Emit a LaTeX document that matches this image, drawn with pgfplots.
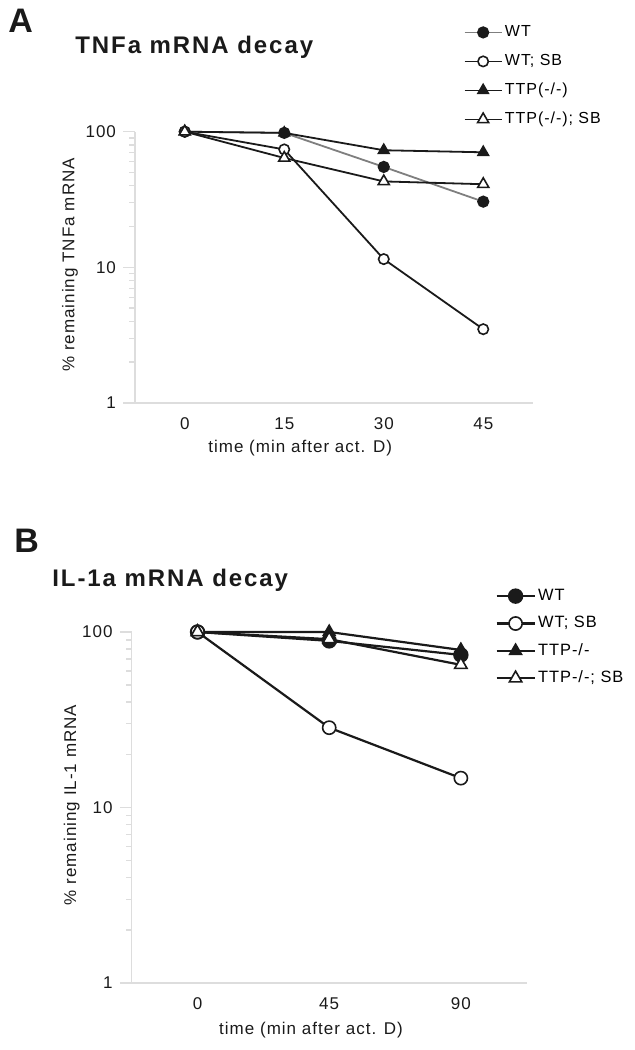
\documentclass[border=0pt]{standalone}
\usepackage{pgfplots}
\pgfplotsset{compat=1.18}
\usepackage{fontspec}
\setmainfont{Liberation Sans}
\newfontfamily\spaced[LetterSpace=6]{Liberation Sans}
\newfontfamily\spacedb[LetterSpace=8]{Liberation Sans}
\definecolor{ln}{HTML}{1A1A1A}
\definecolor{lg}{HTML}{7F7F7F}
\definecolor{ax}{HTML}{DDDDDD}
\begin{document}
\begin{tikzpicture}
\path[use as bounding box] (0,0) rectangle (317.5pt,525pt);
% ---------- Panel A ----------
\begin{axis}[
  scale only axis, ymode=log, ymin=1, ymax=100,
  axis x line=bottom, axis y line=left,
  axis line style={draw=ax, line width=0.7pt, -},
  ytick={1,10,100}, yticklabels={1,10,100},
  minor tick style={draw=none},
  ytick style={draw=ax, line width=0.7pt},
  xtick style={draw=none},
  major tick length=6pt, tick align=outside,
  ticklabel style={font=\spaced\fontsize{8.5}{10}\selectfont, text=ln},
  label style={font=\spaced\fontsize{8.5}{10}\selectfont, text=ln},
  xticklabel style={yshift=2pt},
  clip=false,
  legend cell align=left,
  at={(67.5pt,323.5pt)}, anchor=south west,
  width=199pt, height=135.65pt,
  xmin=-0.5, xmax=3.5, xtick={0,1,2,3}, xticklabels={0,15,30,45},
  xlabel={time (min after act. D)},
  xlabel style={at={(axis description cs:0.415,-0.166)}, anchor=center},
  ylabel={\% remaining TNFa mRNA},
  ylabel style={at={(axis description cs:-0.1633,0.509)}, anchor=center},
  every axis plot/.append style={line width=0.9pt},
  legend style={at={(rel axis cs:0.825,1.405)}, anchor=north west, draw=none, fill=none,
    font=\spaced\fontsize{8}{9.5}\selectfont, inner sep=0pt, row sep=4.3pt,
    nodes={inner sep=1.2pt, text height=6pt, text depth=1.8pt}},
  legend image code/.code={\draw[mark repeat=2,mark phase=2,#1] plot coordinates {(0pt,0pt) (9.25pt,0pt) (18.5pt,0pt)};},
]
\addplot[draw=lg, mark=*, mark size=2.6pt, mark options={draw=ln, fill=ln, solid}] coordinates {(0,100) (1,98) (2,55) (3,30.5)};
\addlegendentry{WT}
\addplot[draw=ln, mark=*, mark size=2.6pt, mark options={draw=ln, fill=white, line width=0.8pt}] coordinates {(0,100) (1,74) (2,11.5) (3,3.5)};
\addlegendentry{WT; SB}
\addplot[draw=ln, mark=triangle*, mark size=3.2pt, mark options={draw=ln, fill=ln, line width=0.6pt}] coordinates {(0,100) (1,98) (2,73) (3,70.5)};
\addlegendentry{TTP(-/-)}
\addplot[draw=ln, mark=triangle*, mark size=3.2pt, mark options={draw=ln, fill=white, line width=0.8pt}] coordinates {(0,100) (1,64) (2,43) (3,41)};
\addlegendentry{TTP(-/-); SB}
\end{axis}
% ---------- Panel B ----------
\begin{axis}[
  scale only axis, ymode=log, ymin=1, ymax=100,
  axis x line=bottom, axis y line=left,
  axis line style={draw=ax, line width=0.7pt, -},
  ytick={1,10,100}, yticklabels={1,10,100},
  minor tick style={draw=none},
  ytick style={draw=ax, line width=0.7pt},
  xtick style={draw=none},
  major tick length=6pt, tick align=outside,
  ticklabel style={font=\spaced\fontsize{8.5}{10}\selectfont, text=ln},
  label style={font=\spaced\fontsize{8.5}{10}\selectfont, text=ln},
  xticklabel style={yshift=2pt},
  clip=false,
  legend cell align=left,
  at={(65.85pt,33.5pt)}, anchor=south west,
  width=197.5pt, height=175.5pt,
  xmin=-0.5, xmax=2.5, xtick={0,1,2}, xticklabels={0,45,90},
  xlabel={time (min after act. D)},
  xlabel style={at={(axis description cs:0.454,-0.134)}, anchor=center},
  ylabel={\% remaining IL-1 mRNA},
  ylabel style={at={(axis description cs:-0.152,0.507)}, anchor=center},
  every axis plot/.append style={line width=1.1pt},
  legend style={at={(rel axis cs:0.92,1.133)}, anchor=north west, draw=none, fill=none,
    font=\spaced\fontsize{8.2}{9.7}\selectfont, inner sep=0pt, row sep=3.3pt,
    nodes={inner sep=1.2pt, text height=6.2pt, text depth=1.8pt}},
  legend image code/.code={\draw[mark repeat=2,mark phase=2,#1] plot coordinates {(0pt,0pt) (9.5pt,0pt) (19pt,0pt)};},
]
\addplot[draw=ln, mark=*, mark size=3.3pt, mark options={draw=ln, fill=ln}] coordinates {(0,100) (1,89) (2,74)};
\addlegendentry{WT}
\addplot[draw=ln, mark=*, mark size=3.3pt, mark options={draw=ln, fill=white, line width=0.8pt}] coordinates {(0,100) (1,28.5) (2,14.7)};
\addlegendentry{WT; SB}
\addplot[draw=ln, mark=triangle*, mark size=3.6pt, mark options={draw=ln, fill=ln, line width=0.6pt}] coordinates {(0,100) (1,100) (2,79)};
\addlegendentry{TTP-/-}
\addplot[draw=ln, mark=triangle*, mark size=3.6pt, mark options={draw=ln, fill=white, line width=0.8pt}] coordinates {(0,100) (1,91) (2,65)};
\addlegendentry{TTP-/-; SB}
\end{axis}
% ---------- Titles and panel letters ----------
\node[anchor=west, inner sep=0pt, font=\bfseries\fontsize{17}{20}\selectfont, text=ln] at (4pt,514.5pt) {A};
\node[anchor=west, inner sep=0pt, font=\spacedb\bfseries\fontsize{12}{14}\selectfont, text=ln] at (37.5pt,501.5pt) {TNFa mRNA decay};
\node[anchor=west, inner sep=0pt, font=\bfseries\fontsize{17}{20}\selectfont, text=ln] at (7pt,254.5pt) {B};
\node[anchor=west, inner sep=0pt, font=\spacedb\bfseries\fontsize{12}{14}\selectfont, text=ln] at (26pt,235pt) {IL-1a mRNA decay};
\end{tikzpicture}
\end{document}
